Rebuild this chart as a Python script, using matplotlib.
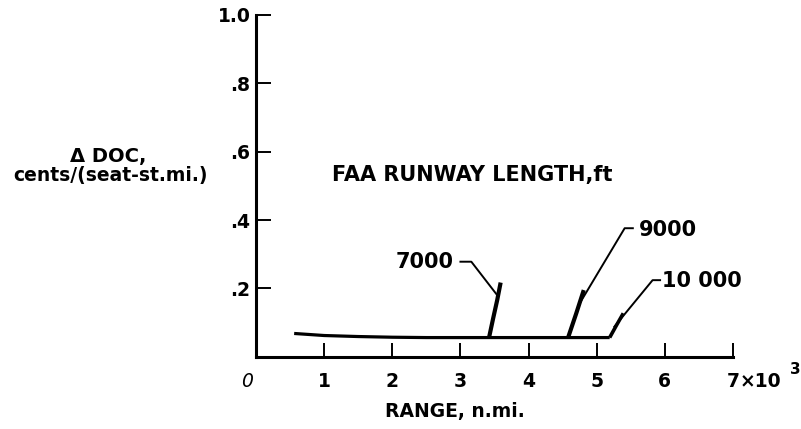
import matplotlib
matplotlib.use("Agg")
import matplotlib.pyplot as plt

plt.rcParams['font.family'] = ['DejaVu Sans']
plt.rcParams['font.weight'] = 'bold'

# ---- data (range in thousands of n.mi., delta DOC in cents/(seat-st.mi.)) ----
base_x = [0.56, 1.0, 1.5, 2.0, 2.5, 3.0, 3.5, 4.0, 4.5, 5.0, 5.19]
base_y = [0.068, 0.062, 0.059, 0.057, 0.056, 0.056, 0.056, 0.056, 0.056, 0.056, 0.056]

r7000_x = [3.42, 3.48, 3.54, 3.59]
r7000_y = [0.056, 0.112, 0.166, 0.217]

r9000_x = [4.58, 4.70, 4.81]
r9000_y = [0.056, 0.127, 0.195]

r10000_x = [5.19, 5.29, 5.39]
r10000_y = [0.056, 0.092, 0.127]

runway_labels = ["7000", "9000", "10 000"]
label_pos = [(2.90, 0.277), (5.62, 0.372), (5.96, 0.222)]
label_ha = ["right", "left", "left"]
leaders = [
    ([3.00, 3.16, 3.54], [0.278, 0.278, 0.18]),
    ([5.53, 5.41, 4.75], [0.376, 0.376, 0.156]),
    ([5.93, 5.82, 5.26], [0.224, 0.224, 0.088]),
]

xticks = [1, 2, 3, 4, 5, 6, 7]
xtick_labels = ["1", "2", "3", "4", "5", "6", "7"]
yticks = [0.2, 0.4, 0.6, 0.8, 1.0]
ytick_labels = [".2", ".4", ".6", ".8", "1.0"]

# ---- figure ----
fig = plt.figure(figsize=(8.01, 4.29), dpi=100)
ax = fig.add_axes([256/801, 1 - 356.7/429, (733 - 256)/801, (356.7 - 15)/429])
ax.set_xlim(0, 7)
ax.set_ylim(0, 1.0)

for s in ['top', 'right']:
    ax.spines[s].set_visible(False)
for s in ['left', 'bottom']:
    ax.spines[s].set_linewidth(2.2)
    ax.spines[s].set_color('black')

ax.set_xticks(xticks)
ax.set_xticklabels(xtick_labels, fontsize=13.5, fontweight='bold')
ax.set_yticks(yticks)
ax.set_yticklabels(ytick_labels, fontsize=13.5, fontweight='bold')
ax.tick_params(axis='x', direction='in', length=10, width=1.4, pad=11)
ax.tick_params(axis='y', direction='in', length=11, width=1.4, pad=4)

# curves
ax.plot(base_x, base_y, color='black', lw=2.3, solid_capstyle='butt', clip_on=False)
ax.plot(r7000_x, r7000_y, color='black', lw=3.0, solid_capstyle='butt')
ax.plot(r9000_x, r9000_y, color='black', lw=3.0, solid_capstyle='butt')
ax.plot(r10000_x, r10000_y, color='black', lw=2.6, solid_capstyle='butt')

# labels with leader lines
for txt, (tx, ty), ha, (lx, ly) in zip(runway_labels, label_pos, label_ha, leaders):
    ax.plot(lx, ly, color='black', lw=1.4)
    ax.text(tx, ty, txt, ha=ha, va='center', fontsize=15, fontweight='bold')

ax.text(332, 429 - 175, "FAA RUNWAY LENGTH,ft", transform=None, fontsize=15,
        fontweight='bold', ha='left', va='center')

# origin "0" and x10^3 multiplier
ax.annotate("0", xy=(0, 0), xycoords='data', xytext=(-6.5, -11), textcoords='offset points',
            ha='center', va='top', fontsize=13.5, fontstyle='italic', fontweight='normal')
ax.annotate("×10", xy=(7, 0), xycoords='data', xytext=(4.5, -11), textcoords='offset points',
            ha='left', va='top', fontsize=13.5, fontweight='bold')
ax.annotate("3", xy=(7, 0), xycoords='data', xytext=(41, -4), textcoords='offset points',
            ha='left', va='top', fontsize=11, fontweight='bold')

# axis titles
fig.text(455/801, 1 - 412/429, "RANGE, n.mi.", ha='center', va='center', fontsize=13.5,
         fontweight='bold')
fig.text(108/801, 1 - 157/429, "Δ DOC,", ha='center', va='center', fontsize=14,
         fontweight='bold')
fig.text(110/801, 1 - 176/429, "cents/(seat-st.mi.)", ha='center', va='center',
         fontsize=13.5, fontweight='bold')

fig.savefig("out.png", dpi=100)
